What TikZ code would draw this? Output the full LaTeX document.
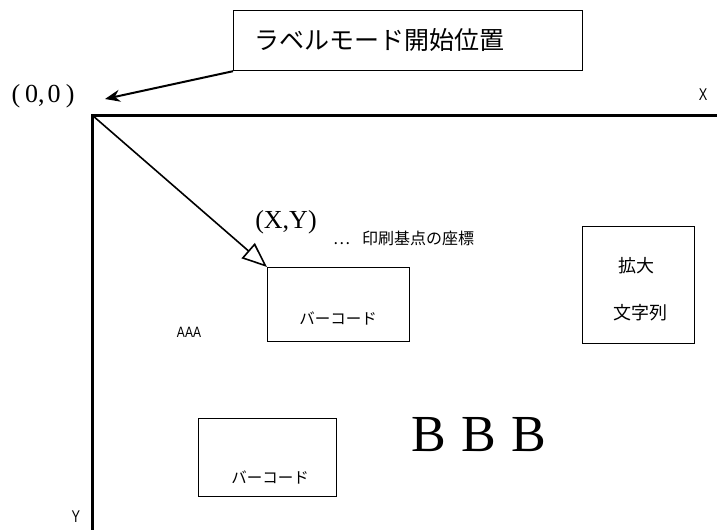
\documentclass[tikz,border=0pt]{standalone}
\usepackage{fontspec}
\setmainfont{Liberation Serif}
\setsansfont{Liberation Sans}
\newfontfamily\jp{Noto Sans CJK JP}
\usetikzlibrary{arrows.meta}
\tikzset{
  frame/.style={draw=black, line width=1.3pt, inner sep=0pt, anchor=north west},
  axisline/.style={line width=3pt},
  txt/.style={inner sep=0pt, anchor=center},
}
\begin{document}
\begin{tikzpicture}[x=1pt,y=-1pt]
\useasboundingbox[fill=white] (0,0) rectangle (717,530);
% axes
\coordinate (O) at (92,115);
\coordinate (Xend) at (717,115);
\coordinate (Yend) at (92,530);
\draw[axisline] (Xend) -- (O) -- (Yend);
\node[txt, font=\sffamily\fontsize{17}{17}\selectfont, xscale=0.75] (xl) at (703,95) {X};
\node[txt, font=\sffamily\fontsize{17}{17}\selectfont, xscale=0.75] (yl) at (76,517) {Y};
% top label box
\node[frame, line width=1.2pt, minimum width=349pt, minimum height=60pt] (lbox) at (233,10) {};
\node[txt, font=\jp\fontsize{25}{25}\selectfont, anchor=west] (ltext) at (254,40) {ラベルモード開始位置};
\node[txt, font=\fontsize{26}{26}\selectfont] (origin) at (43,96) {(\hspace{5pt}0,\hspace{3pt}0\hspace{5pt})};
\coordinate (tip0) at (105,99);
\draw[line width=2pt, -{Stealth[length=15pt,width=12pt]}] (lbox.south west) -- (tip0);
% barcode box 1
\node[frame, minimum width=142pt, minimum height=74pt] (bc1) at (267,267) {};
\node[txt, font=\jp\fontsize{15.5}{15.5}\selectfont] (bc1t) at (338,318) {バーコード};
\draw[line width=1.6pt, -{Triangle[open, length=25pt, width=20pt, line width=1.6pt]}] (O) -- (bc1.north west);
\node[txt, font=\fontsize{26}{26}\selectfont] (xy) at (286,222) {(X,Y)};
\node[txt, font=\jp\fontsize{16}{16}\selectfont, anchor=west] (xyt) at (333,238) {⋯\hspace{12pt}印刷基点の座標};
% enlarged text box
\node[frame, minimum width=112pt, minimum height=117pt] (big) at (582,226) {};
\node[txt, font=\jp\fontsize{18}{18}\selectfont] (bigt1) at (636,266) {拡大};
\node[txt, font=\jp\fontsize{18}{18}\selectfont] (bigt2) at (640,313) {文字列};
% AAA
\node[txt, font=\sffamily\fontsize{15}{15}\selectfont, xscale=0.8] (aaa) at (189,332) {AAA};
% barcode box 2
\node[frame, minimum width=138pt, minimum height=78pt] (bc2) at (198,418) {};
\node[txt, font=\jp\fontsize{15.5}{15.5}\selectfont] (bc2t) at (270,477) {バーコード};
% BBB
\node[txt, font=\fontsize{52}{52}\selectfont] (bbb) at (479,435) {B\hspace{15pt}B\hspace{15pt}B};
\end{tikzpicture}
\end{document}
